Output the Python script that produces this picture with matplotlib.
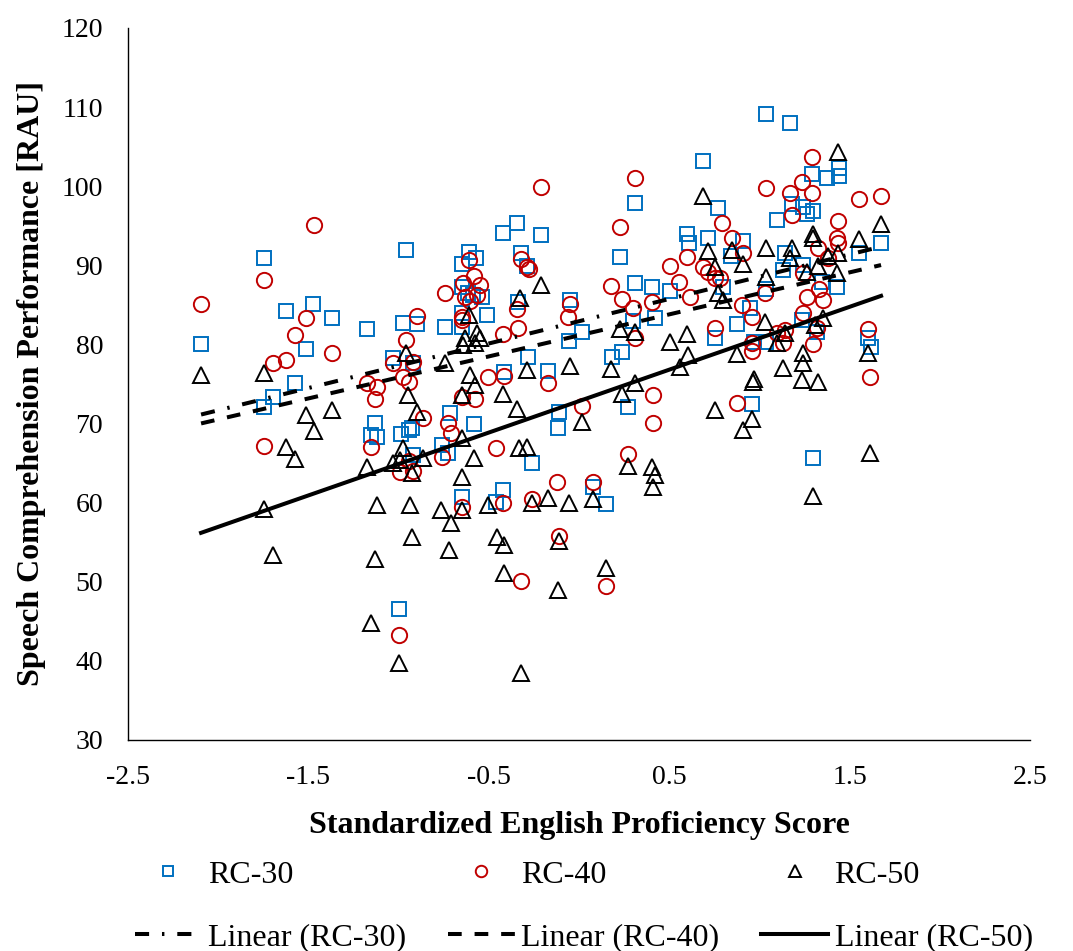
import matplotlib.pyplot as plt
import numpy as np

plt.rcParams["font.family"] = ["Liberation Serif", "DejaVu Serif"]

# RC-30 (blue squares)
rc30 = [
    (-2.095, 80.1), (-1.746, 90.9), (-1.624, 84.2), (-1.474, 85.1), (-1.369, 83.3),
    (-1.175, 82.0), (-0.976, 82.7), (-1.513, 79.4), (-1.574, 75.1), (-1.696, 73.4),
    (-1.746, 72.1), (-1.131, 70.1), (-1.153, 68.6), (-1.120, 68.3), (-0.987, 68.7),
    (-0.942, 69.2), (-0.926, 69.4), (-0.959, 91.9), (-0.998, 46.6), (-0.920, 66.0),
    (-1.031, 78.3), (-0.920, 77.7), (-0.743, 82.2), (-0.649, 84.0), (-0.510, 83.7),
    (-0.649, 82.2), (-0.610, 91.7), (-0.571, 90.9), (-0.649, 90.2), (-0.421, 94.1),
    (-0.344, 95.4), (-0.211, 93.8), (-0.322, 91.6), (-0.288, 89.9), (-0.649, 87.3),
    (-0.615, 86.5), (-0.538, 86.0), (-0.588, 86.3), (-0.338, 85.4), (-0.050, 85.6),
    (0.017, 81.6), (-0.055, 80.4), (0.299, 83.0), (0.421, 83.3), (-0.283, 78.4),
    (-0.172, 76.6), (0.183, 78.4), (0.238, 79.0), (-0.416, 76.5), (-0.715, 71.3),
    (-0.582, 69.9), (-0.759, 67.3), (-0.726, 66.3), (-0.261, 65.0), (-0.111, 71.5),
    (-0.116, 69.4), (0.272, 72.1), (-0.649, 60.7), (-0.421, 61.6), (-0.460, 60.1),
    (0.078, 62.0), (0.150, 59.8), (0.310, 97.9), (0.227, 91.1), (0.310, 87.8),
    (0.405, 87.3), (-0.898, 82.6), (1.037, 109.1), (1.170, 108.0), (0.687, 103.2),
    (1.292, 101.5), (1.375, 101.0), (1.441, 102.3), (1.441, 101.3), (0.771, 97.3),
    (1.181, 97.8), (1.242, 97.4), (1.297, 96.9), (1.264, 96.5), (1.098, 95.7),
    (0.599, 94.0), (0.610, 92.8), (0.715, 93.5), (0.909, 93.1), (1.674, 92.8),
    (1.142, 91.6), (0.843, 91.2), (1.552, 91.6), (1.131, 89.4), (1.242, 90.0),
    (0.798, 87.3), (0.505, 86.8), (1.037, 87.0), (1.430, 87.3), (1.347, 87.9),
    (0.948, 84.6), (0.876, 82.6), (0.754, 80.8), (0.970, 80.3), (1.037, 80.3),
    (1.236, 83.1), (1.319, 81.6), (1.602, 80.8), (1.619, 79.7), (0.959, 72.5),
    (1.297, 65.6),
]

# RC-40 (red circles)
rc40 = [
    (-1.469, 95.1), (-1.746, 88.1), (-2.095, 85.1), (-1.513, 83.3), (-1.574, 81.2),
    (-1.369, 78.9), (-0.959, 80.6), (-1.696, 77.7), (-1.624, 78.0), (-1.031, 77.7),
    (-0.920, 77.8), (-0.976, 75.9), (-0.942, 75.2), (-1.175, 75.1), (-1.120, 74.6),
    (-1.131, 73.1), (-1.746, 67.2), (-1.153, 67.0), (-0.992, 63.9), (-0.920, 64.0),
    (-0.998, 43.3), (-0.898, 83.6), (-0.865, 70.7), (-0.726, 70.1), (-0.710, 68.8),
    (-0.759, 65.8), (-0.942, 65.3), (-0.649, 83.5), (-0.649, 83.1), (-0.344, 84.5),
    (-0.338, 82.1), (-0.421, 81.3), (-0.050, 85.1), (-0.061, 83.5), (0.310, 80.8),
    (-0.504, 75.9), (-0.416, 76.0), (-0.172, 75.1), (-0.649, 73.4), (-0.577, 73.1),
    (-0.460, 66.9), (0.017, 72.2), (0.410, 73.6), (0.410, 70.1), (0.272, 66.2),
    (-0.649, 59.5), (-0.421, 60.0), (-0.261, 60.5), (-0.122, 62.6), (0.078, 62.6),
    (-0.111, 55.8), (-0.322, 50.1), (0.150, 49.5), (-0.211, 99.9), (0.310, 101.0),
    (0.227, 94.8), (-0.610, 90.7), (-0.322, 90.8), (-0.288, 89.8), (-0.277, 89.5),
    (-0.582, 88.7), (-0.549, 87.5), (-0.643, 87.8), (-0.743, 86.5), (-0.632, 86.0),
    (-0.565, 86.3), (-0.604, 85.5), (0.177, 87.4), (0.238, 85.7), (0.299, 84.6),
    (0.405, 85.4), (1.292, 103.7), (1.236, 100.5), (1.037, 99.8), (1.170, 99.1),
    (1.292, 99.1), (1.552, 98.4), (1.674, 98.8), (1.181, 96.4), (1.436, 95.6),
    (0.793, 95.4), (0.848, 93.5), (1.430, 93.5), (1.436, 92.8), (1.325, 92.2),
    (0.909, 91.6), (0.599, 91.1), (0.505, 89.9), (1.380, 90.9), (0.687, 89.8),
    (0.715, 89.2), (1.242, 89.0), (0.754, 88.4), (0.782, 88.4), (0.554, 87.9),
    (0.615, 86.0), (0.904, 85.0), (1.031, 86.5), (1.330, 87.0), (1.264, 86.0),
    (1.353, 85.6), (1.242, 84.0), (0.959, 83.5), (0.754, 82.1), (0.959, 80.2),
    (0.959, 79.2), (1.098, 81.4), (1.142, 81.8), (1.131, 80.2), (1.319, 82.1),
    (1.297, 80.1), (1.602, 82.0), (1.613, 75.9), (0.876, 72.6),
]

# RC-50 (black triangles)
rc50 = [
    (-2.095, 76.1), (-1.746, 76.4), (-1.513, 71.1), (-1.369, 71.7), (-1.469, 69.1),
    (-1.624, 67.0), (-1.574, 65.5), (-1.746, 59.2), (-0.959, 78.9), (-0.948, 73.6),
    (-0.898, 71.5), (-1.175, 64.5), (-1.031, 65.0), (-0.992, 65.4), (-0.976, 66.9),
    (-0.926, 63.8), (-0.865, 65.6), (-1.120, 59.7), (-0.937, 59.7), (-1.696, 53.4),
    (-1.131, 52.9), (-0.926, 55.7), (-1.153, 44.8), (-0.998, 39.7), (-0.765, 59.1),
    (-0.710, 57.4), (-0.720, 54.0), (-0.455, 55.7), (-0.416, 54.6), (-0.111, 55.2),
    (-0.416, 51.1), (-0.116, 49.0), (0.150, 51.7), (-0.322, 38.5), (-0.610, 83.7),
    (-0.327, 85.9), (-0.211, 87.5), (-0.565, 81.4), (-0.549, 80.8), (-0.632, 80.8),
    (-0.643, 79.9), (-0.576, 80.2), (0.227, 82.0), (0.310, 81.6), (-0.288, 76.8),
    (-0.604, 76.1), (-0.577, 74.9), (-0.743, 77.7), (-0.050, 77.3), (0.177, 76.9),
    (-0.649, 73.6), (-0.421, 73.7), (-0.344, 71.8), (0.017, 70.2), (-0.649, 68.2),
    (-0.582, 65.6), (-0.333, 66.9), (-0.288, 67.0), (0.310, 75.1), (0.238, 73.7),
    (0.272, 64.6), (0.405, 64.5), (0.421, 63.5), (0.410, 62.0), (-0.649, 63.2),
    (-0.649, 59.1), (-0.504, 59.7), (-0.261, 60.0), (-0.172, 60.6), (-0.055, 60.0),
    (0.078, 60.5), (1.436, 104.3), (0.687, 98.8), (1.674, 95.2), (1.297, 94.0),
    (1.297, 93.5), (1.552, 93.3), (0.715, 91.8), (0.848, 91.9), (1.037, 92.2),
    (1.181, 92.2), (1.170, 90.9), (1.380, 91.2), (1.436, 91.6), (0.754, 89.8),
    (0.909, 90.2), (1.264, 89.2), (1.325, 89.9), (1.430, 89.0), (0.771, 86.5),
    (0.798, 85.6), (1.037, 88.5), (1.031, 82.8), (1.142, 81.4), (1.098, 80.2),
    (1.353, 83.4), (1.308, 82.5), (0.505, 80.3), (0.599, 81.3), (0.604, 78.7),
    (0.560, 77.2), (0.876, 78.8), (1.242, 78.9), (1.242, 77.7), (1.131, 77.0),
    (1.236, 75.5), (1.325, 75.3), (0.965, 75.3), (0.970, 75.6), (1.602, 78.9),
    (0.754, 71.7), (0.959, 70.6), (0.909, 69.2), (1.613, 66.3), (1.297, 60.8),
]

x_tick_labels = ["-2.5", "-1.5", "-0.5", "0.5", "1.5", "2.5"]

series = [
    ("RC-30", rc30, "s", "#0070C0", 10, (0, (3.5, 3.2, 0.6, 3.2))),
    ("RC-40", rc40, "o", "#C00000", 11, (0, (3.4, 3.2))),
    ("RC-50", rc50, "^", "black", 11, "-"),
]

fig = plt.figure(figsize=(10.73, 9.51), dpi=100)
ax = fig.add_axes([0.1193, 0.2219, 0.8407, 0.7487])

handles = []
for name, pts, marker, color, ms, ls in series:
    x = np.array([p[0] for p in pts])
    y = np.array([p[1] for p in pts])
    h = ax.plot(x, y, linestyle="none", marker=marker, markersize=ms,
                markerfacecolor="none", markeredgecolor=color,
                markeredgewidth=1.4, label=name, zorder=2)[0]
    # Excel-style linear trendline over the data range
    slope, intercept = np.polyfit(x, y, 1)
    xs = np.array([x.min(), x.max()])
    t = ax.plot(xs, slope * xs + intercept, color="black", linewidth=2.9,
                linestyle=ls, dash_capstyle="butt", label=f"Linear ({name})",
                zorder=3)[0]
    handles.extend([h, t])

ax.set_xlim(-2.5, 2.5)
ax.set_ylim(30, 120)
ax.set_xticks(np.arange(-2.5, 2.51, 1.0))
ax.set_xticklabels(x_tick_labels)
ax.set_yticks(np.arange(30, 121, 10))
ax.tick_params(axis="both", length=0, labelsize=20, pad=18)

for side in ["top", "right"]:
    ax.spines[side].set_visible(False)
for side in ["left", "bottom"]:
    ax.spines[side].set_linewidth(1.0)
    ax.spines[side].set_color("black")

ax.set_xlabel("Standardized English Proficiency Score", fontsize=23,
              fontweight="bold", labelpad=15)
ax.set_ylabel("Speech Comprehension Performance [RAU]", fontsize=23,
              fontweight="bold", labelpad=11)

fig.legend(handles=handles, loc="center", bbox_to_anchor=(0.544, 0.047),
           ncol=3, frameon=False, fontsize=23, markerscale=0.75,
           handlelength=2.1, handletextpad=0.2, columnspacing=1.3,
           labelspacing=1.05)

fig.savefig("out.png", dpi=100)
